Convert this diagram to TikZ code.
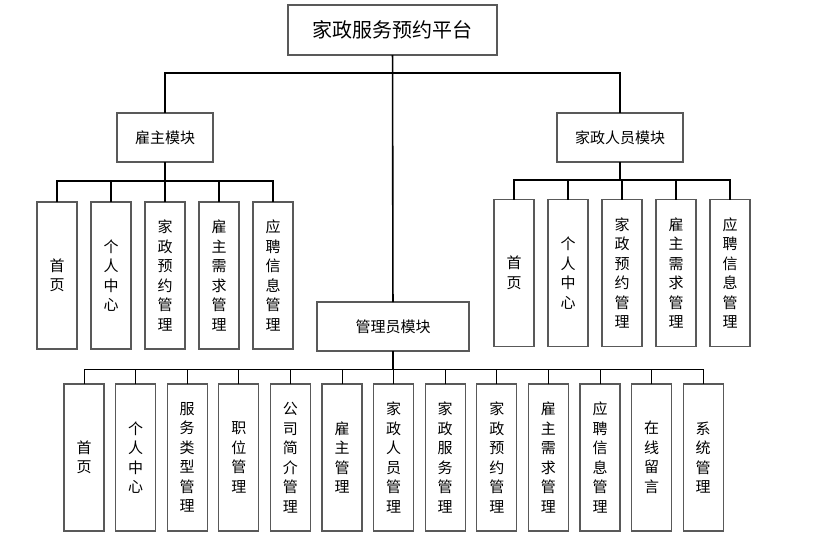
\documentclass[tikz,border=0pt]{standalone}
\usepackage{fontspec}
\setmainfont{Noto Sans CJK SC}
\usetikzlibrary{positioning}

\begin{document}
\begin{tikzpicture}[
        x=1pt, y=-1pt,
        box/.style={rectangle, draw=black!65, line width=1.1pt, inner sep=0pt, outer sep=0pt, fill=white},
        rootbox/.style={box, minimum width=209pt, minimum height=50pt, font=\fontsize{20}{24}\selectfont},
        module/.style={box, minimum height=49pt, font=\fontsize{15}{18}\selectfont},
        leaf/.style={box, minimum width=40pt, minimum height=147pt, align=center, font=\fontsize{15}{19.5}\selectfont},
        link/.style={line width=1.6pt},
        thinlink/.style={line width=0.9pt}
    ]
        \useasboundingbox (0,0) rectangle (814,550);
        % top levels
        \node[rootbox] (root) at (392.5,30) {家政服务预约平台};
        \node[module, minimum width=96pt] (emp) at (165,137.5) {雇主模块};
        \node[module, minimum width=126pt] (staff) at (620,137.5) {家政人员模块};
        \node[module, minimum width=152pt] (admin) at (393,326.5) {管理员模块};
        % employer
        \node[leaf] (e1) at (57,275.5) {首\\页};
        \node[leaf, right=14pt of e1] (e2) {个\\人\\中\\心};
        \node[leaf, right=14pt of e2] (e3) {家\\政\\预\\约\\管\\理};
        \node[leaf, right=14pt of e3] (e4) {雇\\主\\需\\求\\管\\理};
        \node[leaf, right=14pt of e4] (e5) {应\\聘\\信\\息\\管\\理};
        % staff
        \node[leaf] (s1) at (514,273) {首\\页};
        \node[leaf, right=14pt of s1] (s2) {个\\人\\中\\心};
        \node[leaf, right=14pt of s2] (s3) {家\\政\\预\\约\\管\\理};
        \node[leaf, right=14pt of s3] (s4) {雇\\主\\需\\求\\管\\理};
        \node[leaf, right=14pt of s4] (s5) {应\\聘\\信\\息\\管\\理};
        % admin
        \node[leaf] (a1) at (84,457.5) {首\\页};
        \node[leaf, right=11.6pt of a1] (a2) {个\\人\\中\\心};
        \node[leaf, right=11.6pt of a2] (a3) {服\\务\\类\\型\\管\\理};
        \node[leaf, right=11.6pt of a3] (a4) {职\\位\\管\\理};
        \node[leaf, right=11.6pt of a4] (a5) {公\\司\\简\\介\\管\\理};
        \node[leaf, right=11.6pt of a5] (a6) {雇\\主\\管\\理};
        \node[leaf, right=11.6pt of a6] (a7) {家\\政\\人\\员\\管\\理};
        \node[leaf, right=11.6pt of a7] (a8) {家\\政\\服\\务\\管\\理};
        \node[leaf, right=11.6pt of a8] (a9) {家\\政\\预\\约\\管\\理};
        \node[leaf, right=11.6pt of a9] (a10) {雇\\主\\需\\求\\管\\理};
        \node[leaf, right=11.6pt of a10] (a11) {应\\聘\\信\\息\\管\\理};
        \node[leaf, right=11.6pt of a11] (a12) {在\\线\\留\\言};
        \node[leaf, right=11.6pt of a12] (a13) {系\\统\\管\\理};
        % bus lines
        \coordinate (topbus) at (392.5,73);
        \coordinate (ebus) at (165,181);
        \coordinate (sbus) at (620,180);
        \coordinate (abus) at (393,369);
        \draw[link] (root) -- (admin);
        \draw[link] (emp.north) |- (topbus) -| (staff.north);
        \draw[link] (emp.south) -- (ebus);
        \draw[link] (e1.north) |- (e5.north |- ebus) -- (e5.north);
        \draw[link] (e2.north) -- (e2.north |- ebus) (e3.north) -- (e3.north |- ebus) (e4.north) -- (e4.north |- ebus);
        \draw[link] (staff.south) -- (sbus);
        \draw[link] (s1.north) |- (s5.north |- sbus) -- (s5.north);
        \draw[link] (s2.north) -- (s2.north |- sbus) (s3.north) -- (s3.north |- sbus) (s4.north) -- (s4.north |- sbus);
        \draw[link] (admin.south) -- (abus);
        \draw[thinlink] (a1.north) |- (a13.north |- abus) -- (a13.north);
        \draw[thinlink] (a2.north) -- (a2.north |- abus) (a3.north) -- (a3.north |- abus) (a4.north) -- (a4.north |- abus)
            (a5.north) -- (a5.north |- abus) (a6.north) -- (a6.north |- abus) (a7.north) -- (a7.north |- abus)
            (a8.north) -- (a8.north |- abus) (a9.north) -- (a9.north |- abus) (a10.north) -- (a10.north |- abus)
            (a11.north) -- (a11.north |- abus) (a12.north) -- (a12.north |- abus);
    \end{tikzpicture}
\end{document}
